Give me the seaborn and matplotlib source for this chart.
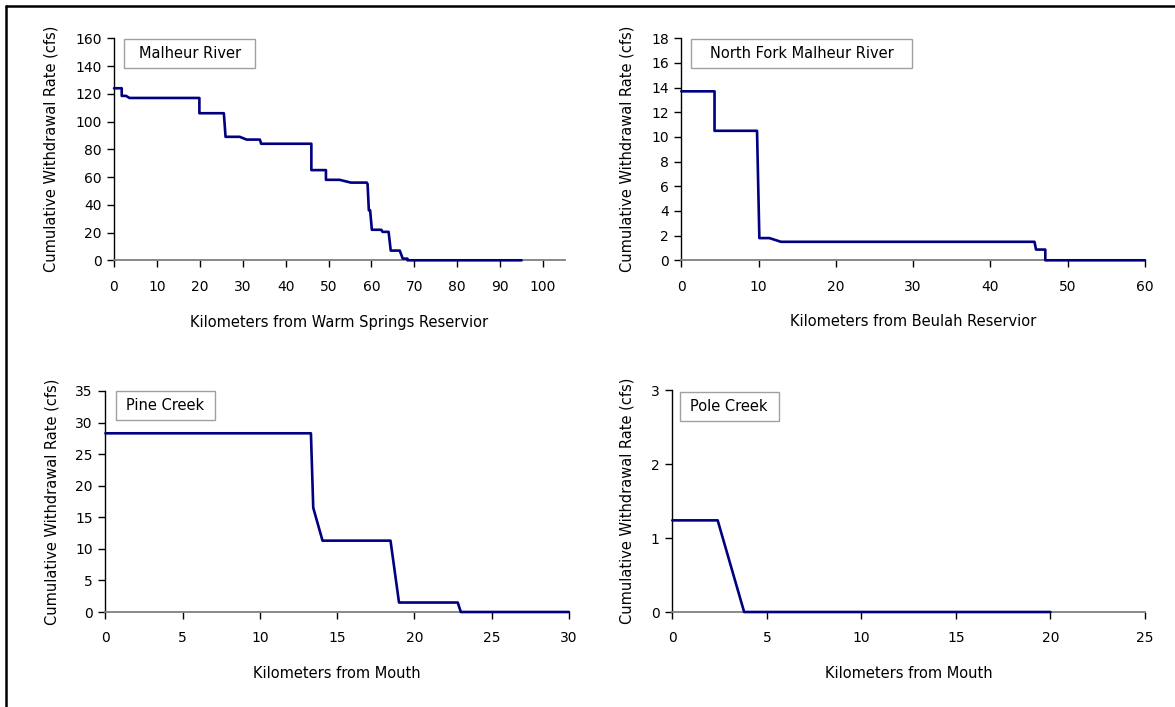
import matplotlib
matplotlib.use("Agg")
import matplotlib.pyplot as plt
from matplotlib.patches import Rectangle
from matplotlib.lines import Line2D
import seaborn as sns
import pandas as pd

# Malheur River
malheur_km = [0, 1.8, 1.8, 2.8, 3.6, 19.9, 19.9, 25.6, 26.0, 29.3, 30.9, 34.0, 34.3,
              46.0, 46.0, 49.4, 49.4, 52.6, 55.2, 58.9, 59.1, 59.4, 59.7, 60.1,
              62.3, 62.6, 64.0, 64.5, 66.6, 67.3, 68.4, 68.4, 95]
malheur_cfs = [124, 124, 118.5, 118.5, 117, 117, 106, 106, 89, 89, 87, 87, 84,
               84, 65, 65, 58, 58, 56, 56, 55, 36, 36, 22,
               22, 20.5, 20.5, 7, 7, 1.2, 1.2, 0, 0]

# North Fork Malheur River
nf_km = [0, 4.3, 4.3, 9.8, 10.1, 11.4, 12.9, 45.7, 45.9, 47.1, 47.1, 60]
nf_cfs = [13.7, 13.7, 10.5, 10.5, 1.8, 1.8, 1.5, 1.5, 0.87, 0.87, 0, 0]

# Pine Creek
pine_km = [0, 13.3, 13.45, 14.05, 18.45, 19.0, 22.8, 23.0, 30]
pine_cfs = [28.3, 28.3, 16.5, 11.3, 11.3, 1.5, 1.5, 0, 0]

# Pole Creek
pole_km = [0, 2.4, 3.8, 20]
pole_cfs = [1.24, 1.24, 0, 0]

titles = ["Malheur River", "North Fork Malheur River", "Pine Creek", "Pole Creek"]
xlabels = ["Kilometers from Warm Springs Reservior", "Kilometers from Beulah Reservior",
           "Kilometers from Mouth", "Kilometers from Mouth"]
ylabel = "Cumulative Withdrawal Rate (cfs)"

series = [(malheur_km, malheur_cfs), (nf_km, nf_cfs), (pine_km, pine_cfs), (pole_km, pole_cfs)]
xlims = [(0, 105, 10, 100), (0, 60, 10, 60), (0, 30, 5, 30), (0, 25, 5, 25)]
ylims = [(0, 160, 20), (0, 18, 2), (0, 35, 5), (0, 3, 1)]

# layout in pixels (left, top, right, bottom)
W, H = 1175, 707
ax_px = [(114, 38.3, 564.5, 260.3), (681.3, 38.3, 1145, 260.3),
         (105.4, 391, 569, 612), (672.3, 390.3, 1145, 612)]
box_px = [(124.2, 39.3, 255.2, 68.3), (691.1, 39.3, 912.4, 68.3),
          (115.5, 391, 214.5, 420), (679.8, 391.7, 778.5, 420.7)]
ylab_x = [51, 627.5, 52, 627.5]
xlab_y = [322, 322, 674, 674]

sns.set_style("ticks")
plt.rcParams["font.family"] = ["DejaVu Sans"]
plt.rcParams["font.size"] = 10
plt.rcParams["text.color"] = "black"
plt.rcParams["axes.labelcolor"] = "black"

fig = plt.figure(figsize=(W / 100, H / 100), dpi=100)
line_color = "#000080"

for i in range(4):
    l, t, r, b = ax_px[i]
    ax = fig.add_axes([l / W, 1 - b / H, (r - l) / W, (b - t) / H])
    df = pd.DataFrame({"km": series[i][0], "cfs": series[i][1]})
    sns.lineplot(data=df, x="km", y="cfs", ax=ax, color=line_color, lw=1.9,
                 sort=False, estimator=None, zorder=3)
    ax.get_lines()[0].set_clip_on(False)

    x0, x1, xs, xmax_tick = xlims[i]
    y0, y1, ys = ylims[i]
    ax.set_xlim(x0, x1)
    ax.set_ylim(y0, y1)
    ax.set_xticks(range(x0, xmax_tick + 1, xs))
    ax.set_yticks(range(y0, y1 + 1, ys))

    ax.spines["top"].set_visible(False)
    ax.spines["right"].set_visible(False)
    ax.spines["left"].set_color("black")
    ax.spines["left"].set_linewidth(1.0)
    ax.spines["bottom"].set_color("#808080")
    ax.spines["bottom"].set_linewidth(1.3)
    ax.tick_params(axis="x", length=5, width=1, color="black", pad=9,
                   labelsize=10, labelcolor="black")
    ax.tick_params(axis="y", length=5, width=1, color="black", pad=4,
                   labelsize=10, labelcolor="black")

    ax.set_xlabel(xlabels[i], fontsize=10.5, color="black")
    ax.set_ylabel(ylabel, fontsize=10.5, color="black")
    ax.xaxis.set_label_coords(0.5, (b - xlab_y[i]) / (b - t))
    ax.xaxis.label.set_va("center")
    ax.yaxis.set_label_coords((ylab_x[i] - l) / (r - l), 0.5)
    ax.yaxis.label.set_va("center")

    bl, bt, br, bb = box_px[i]
    bx = (bl - l) / (r - l)
    by = (b - bb) / (b - t)
    bw = (br - bl) / (r - l)
    bh = (bb - bt) / (b - t)
    ax.add_patch(Rectangle((bx, by), bw, bh, transform=ax.transAxes,
                           facecolor="white", edgecolor="#a0a0a0", lw=1.0,
                           clip_on=False, zorder=5))
    ax.text(bx + bw / 2, by + bh / 2, titles[i], transform=ax.transAxes,
            ha="center", va="center", fontsize=10.5, color="black", zorder=6)

# outer frame (top and left edges visible)
fig.add_artist(Line2D([5.5 / W, 1], [1 - 5.5 / H, 1 - 5.5 / H], color="black", lw=1.8,
                      transform=fig.transFigure))
fig.add_artist(Line2D([5.5 / W, 5.5 / W], [0, 1 - 5.5 / H], color="black", lw=1.8,
                      transform=fig.transFigure))

fig.savefig("out.png", dpi=100)
